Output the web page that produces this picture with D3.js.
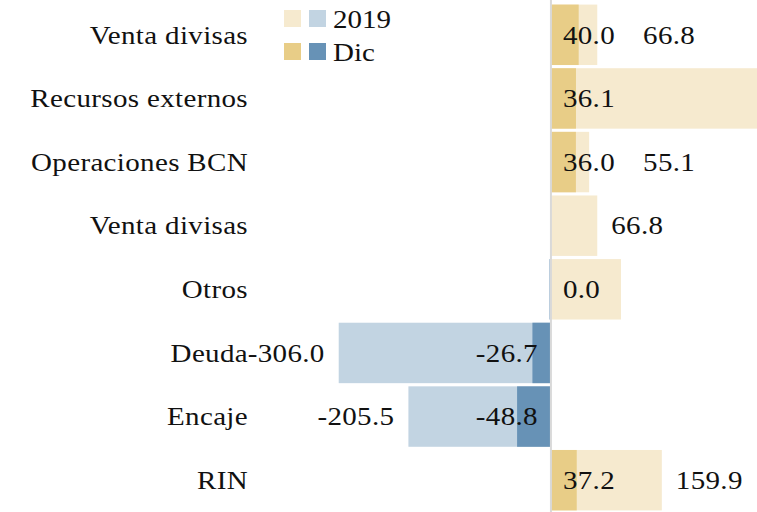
<!DOCTYPE html>
<html lang="es">
<head>
    <meta charset="UTF-8">
    <script src="https://d3js.org/d3.v7.min.js"></script>
    <title>RIN</title>
    <style>
        body { margin: 0; background: #fff; }
        svg text { font-family: "Liberation Serif", "DejaVu Serif", "Times New Roman", serif; fill: #111; }
    </style>
</head>
<body>
<script>
    const categories = ["Venta divisas", "Recursos externos", "Operaciones BCN", "Venta divisas",
                        "Otros", "Deuda", "Encaje", "RIN"];
    const seriesNames = ["2019", "Dic"];
    const values2019 = [66.8, 300.0, 55.1, 66.8, 101.0, -306.0, -205.5, 159.9];
    const valuesDic = [40.0, 36.1, 36.0, 0, -2.0, -26.7, -48.8, 37.2];
    const labels2019 = ["66.8", null, "55.1", "66.8", null, "-306.0", "-205.5", "159.9"];
    const labelsDic = ["40.0", "36.1", "36.0", null, "0.0", "-26.7", "-48.8", "37.2"];

    const width = 757, height = 512;
    const fontSize = 25;
    const stretch = 1.16; // the original face is a wide Garamond

    const colors = {
        "2019": { pos: "#f6eacf", neg: "#c2d4e2" },
        "Dic": { pos: "#e8cd87", neg: "#6792b6" }
    };

    const svg = d3.select("body").append("svg")
        .attr("width", width)
        .attr("height", height);

    const x = d3.scaleLinear()
        .domain([-320, 300])
        .range([329, 759]);

    const y = d3.scaleBand()
        .domain(d3.range(categories.length))
        .range([3, 512])
        .paddingInner(0.05)
        .paddingOuter(0.025);

    const rows = categories.map((c, i) => ({
        i: i, cat: c,
        v19: values2019[i], vDic: valuesDic[i],
        l19: labels2019[i], lDic: labelsDic[i]
    }));

    const midY = d => y(d.i) + y.bandwidth() / 2;

    function label(sel, fx, anchor) {
        sel.attr("transform", d => "translate(" + fx(d) + "," + midY(d) + ") scale(" + stretch + ",1)")
            .attr("dy", "0.35em")
            .attr("text-anchor", anchor)
            .style("font-size", fontSize + "px")
            .style("letter-spacing", "0.3px");
    }

    // 2019 bars (light), then Dic bars on top
    svg.append("g").selectAll("rect")
        .data(rows)
        .join("rect")
        .attr("x", d => x(Math.min(0, d.v19)))
        .attr("width", d => Math.abs(x(d.v19) - x(0)))
        .attr("y", d => y(d.i))
        .attr("height", y.bandwidth())
        .attr("fill", d => d.v19 < 0 ? colors["2019"].neg : colors["2019"].pos);

    svg.append("g").selectAll("rect")
        .data(rows)
        .join("rect")
        .attr("x", d => x(Math.min(0, d.vDic)))
        .attr("width", d => Math.abs(x(d.vDic) - x(0)))
        .attr("y", d => y(d.i))
        .attr("height", y.bandwidth())
        .attr("fill", d => d.vDic < 0 ? colors["Dic"].neg : colors["Dic"].pos);

    // zero line
    svg.append("line")
        .attr("x1", x(0)).attr("x2", x(0))
        .attr("y1", 0).attr("y2", height)
        .attr("stroke", "#d9d9d9")
        .attr("stroke-width", 2);

    // category labels
    svg.append("g").selectAll("text")
        .data(rows)
        .join("text")
        .call(label, d => 248, d => "end")
        .text(d => d.cat);

    // Dic labels, near the zero line
    const neg = s => s.startsWith("-");
    const dicText = svg.append("g").selectAll("text")
        .data(rows.filter(d => d.lDic !== null))
        .join("text")
        .call(label, d => neg(d.lDic) ? x(0) - 13 : x(0) + 12, d => neg(d.lDic) ? "end" : "start")
        .text(d => d.lDic);

    const dicBox = {};
    dicText.each(function(d) {
        const b = this.getBoundingClientRect();
        dicBox[d.i] = { x0: b.left, x1: b.right };
    });

    // 2019 labels, outside the bar end; pushed aside when they hit the Dic label
    svg.append("g").selectAll("text")
        .data(rows.filter(d => d.l19 !== null))
        .join("text")
        .call(label, d => {
            if (d.v19 < 0) return x(d.v19) - 14;
            let px = x(d.v19) + 14;
            const o = dicBox[d.i];
            if (o && o.x1 + 4 > px) px = o.x1 + 28;
            return px;
        }, d => d.v19 < 0 ? "end" : "start")
        .text(d => d.l19);

    // legend
    const legend = svg.append("g").attr("transform", "translate(284,10)");
    seriesNames.forEach((s, k) => {
        const g = legend.append("g").attr("transform", "translate(0," + (k * 33) + ")");
        g.append("rect").attr("x", 0).attr("width", 17).attr("height", 17)
            .attr("fill", colors[s].pos);
        g.append("rect").attr("x", 25).attr("width", 17).attr("height", 17)
            .attr("fill", colors[s].neg);
        g.append("text")
            .attr("transform", "translate(49,9) scale(" + stretch + ",1)")
            .attr("dy", "0.35em")
            .style("font-size", fontSize + "px")
            .text(s);
    });
</script>
</body>
</html>
